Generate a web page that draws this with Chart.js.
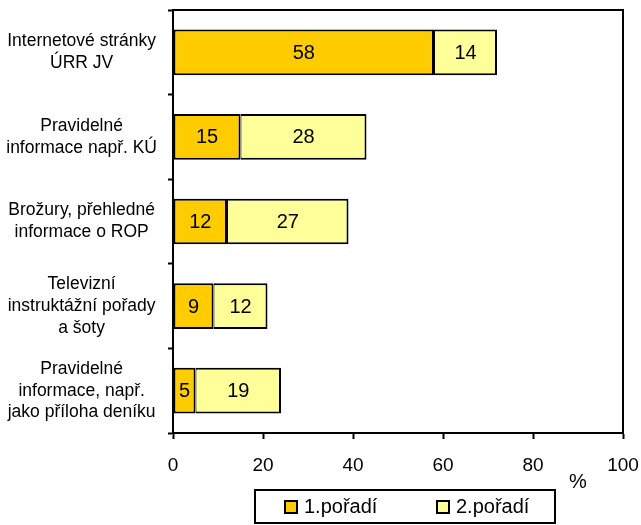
<!DOCTYPE html>
<html>
<head>
<meta charset="utf-8">
<script src="https://cdn.jsdelivr.net/npm/chart.js@4"></script>
<style>
  html, body { margin: 0; padding: 0; background: #fff; }
  #wrap { width: 641px; height: 525px; }
</style>
</head>
<body>
<div id="wrap"><canvas id="barChart" width="641" height="525"></canvas></div>
<script>
const categories = [
    ['Internetové stránky', 'ÚRR JV'],
    ['Pravidelné', 'informace např. KÚ'],
    ['Brožury, přehledné', 'informace o ROP'],
    ['Televizní', 'instruktážní pořady', 'a šoty'],
    ['Pravidelné', 'informace, např.', 'jako příloha deníku']
];
const seriesNames = ['1.pořadí', '2.pořadí'];
const firstRank = [58, 15, 12, 9, 5];
const secondRank = [14, 28, 27, 12, 19];
const xTicks = [0, 20, 40, 60, 80, 100];

const FONT = "'Liberation Sans', Arial, sans-serif";

// popisky hodnot uvnitř segmentů
const valueLabels = {
    id: 'valueLabels',
    afterDatasetsDraw(chart) {
        const ctx = chart.ctx;
        ctx.save();
        ctx.font = '20px ' + FONT;
        ctx.fillStyle = '#000';
        ctx.textAlign = 'center';
        ctx.textBaseline = 'middle';
        chart.data.datasets.forEach((ds, i) => {
            chart.getDatasetMeta(i).data.forEach((bar, j) => {
                ctx.fillText(String(ds.data[j]), (bar.x + bar.base) / 2, bar.y + 1);
            });
        });
        ctx.restore();
    }
};

// rámeček grafu, znak % a legenda v rámečku
const frameAndLegend = {
    id: 'frameAndLegend',
    afterDraw(chart) {
        const ctx = chart.ctx;
        const a = chart.chartArea;
        ctx.save();
        ctx.strokeStyle = '#000';
        ctx.lineWidth = 2;
        ctx.beginPath();
        ctx.moveTo(a.left, a.top);
        ctx.lineTo(a.right, a.top);
        ctx.lineTo(a.right, a.bottom);
        ctx.stroke();

        ctx.fillStyle = '#000';
        ctx.font = '20px ' + FONT;
        ctx.textAlign = 'center';
        ctx.textBaseline = 'middle';
        ctx.fillText('%', chart.scales.x.getPixelForValue(90), 482);

        const lx = 255, ly = 490, lw = 300, lh = 33;
        ctx.lineWidth = 2;
        ctx.strokeRect(lx, ly, lw, lh);
        const itemX = [lx + 30, lx + 182];
        chart.data.datasets.forEach((ds, i) => {
            ctx.fillStyle = ds.backgroundColor;
            ctx.fillRect(itemX[i], ly + 11, 12, 12);
            ctx.lineWidth = 2;
            ctx.strokeRect(itemX[i], ly + 11, 12, 12);
            ctx.fillStyle = '#000';
            ctx.textAlign = 'left';
            ctx.fillText(ds.label, itemX[i] + 19, ly + 17);
        });
        ctx.restore();
    }
};

new Chart(document.getElementById('barChart'), {
    type: 'bar',
    data: {
        labels: categories,
        datasets: [{
            label: seriesNames[0],
            data: firstRank,
            backgroundColor: '#FFCC00',
            borderColor: '#000',
            borderWidth: { top: 2, bottom: 2, left: 2, right: 2 },
            borderSkipped: false
        }, {
            label: seriesNames[1],
            data: secondRank,
            backgroundColor: '#FFFF99',
            borderColor: '#000',
            borderWidth: { top: 2, bottom: 2, left: 1, right: 2 },
            borderSkipped: false
        }]
    },
    options: {
        indexAxis: 'y',
        responsive: false,
        animation: false,
        layout: { padding: { top: 10, right: 18, left: 0, bottom: 40 } },
        datasets: { bar: { categoryPercentage: 1, barPercentage: 0.54 } },
        scales: {
            x: {
                stacked: true,
                min: 0,
                max: 100,
                afterBuildTicks: s => { s.ticks = xTicks.map(v => ({ value: v })); },
                afterFit: s => { s.height = 52; s.paddingLeft = 0; s.paddingRight = 0; },
                grid: { drawOnChartArea: false, drawTicks: true, tickLength: 6, tickColor: '#000', tickWidth: 2 },
                border: { color: '#000', width: 2 },
                ticks: { color: '#000', padding: 15, font: { family: FONT, size: 19 } }
            },
            y: {
                stacked: true,
                afterFit: s => { s.width = 173; s.paddingTop = 0; s.paddingBottom = 0; },
                grid: { offset: true, drawOnChartArea: false, drawTicks: true, tickLength: 5, tickColor: '#000', tickWidth: 2 },
                border: { color: '#000', width: 2 },
                ticks: { color: '#000', padding: 11, crossAlign: 'center', font: { family: FONT, size: 17.5, lineHeight: 1.24 } }
            }
        },
        plugins: {
            legend: { display: false },
            tooltip: { enabled: false }
        }
    },
    plugins: [valueLabels, frameAndLegend]
});
</script>
</body>
</html>
